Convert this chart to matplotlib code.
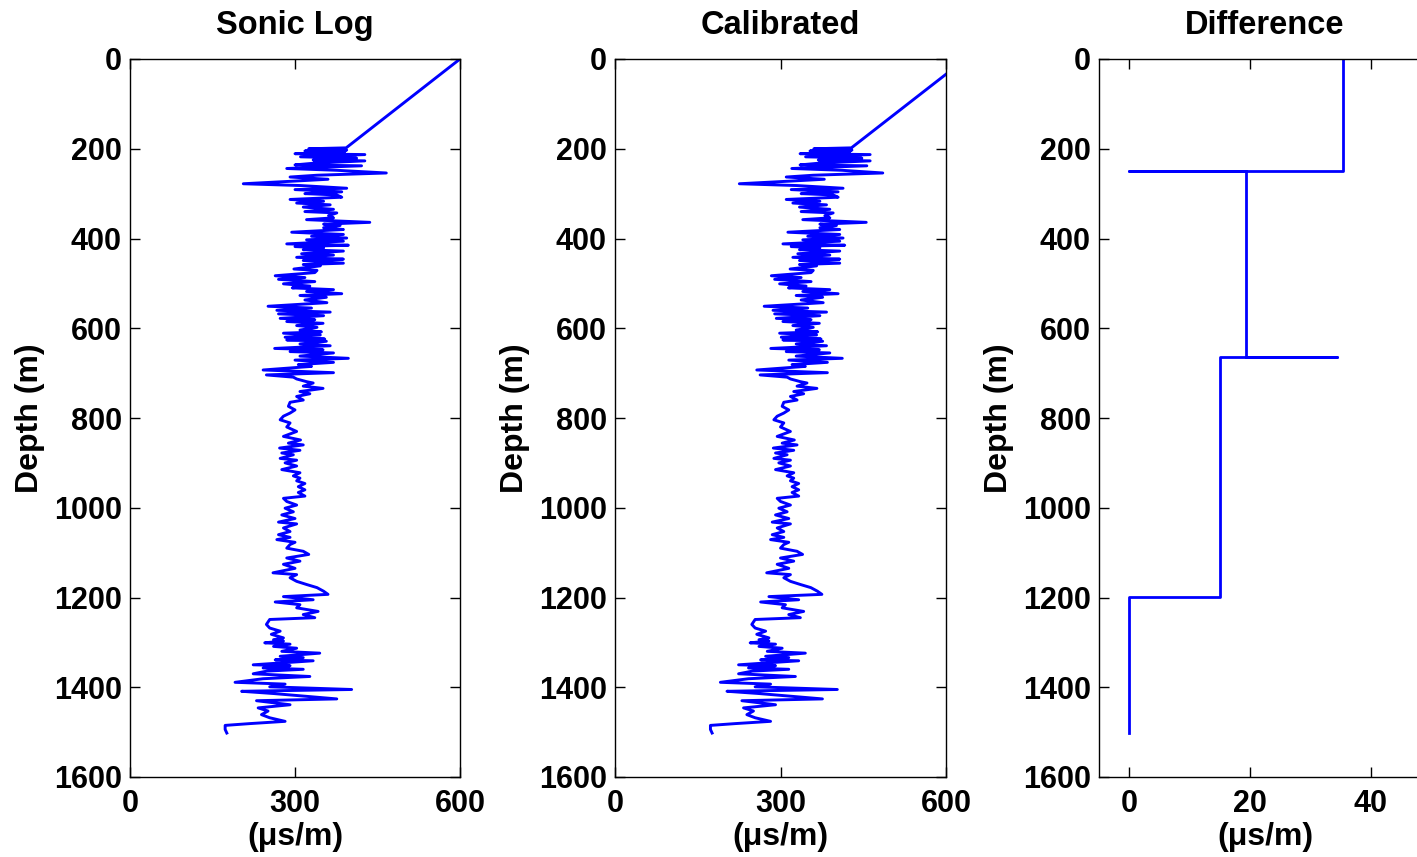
import numpy as np
import matplotlib
matplotlib.use("Agg")
import matplotlib.pyplot as plt

# ---------------- data ----------------
sonic_depth = [
    0, 198, 200, 203, 205, 208, 211, 213, 218, 221, 225, 227, 232, 236, 238, 244, 248, 254,
    259, 263, 268, 272, 278, 282, 288, 291, 296, 300, 303, 308, 313, 317, 321, 325, 330,
    335, 340, 343, 349, 354, 358, 364, 368, 371, 376, 380, 386, 391, 395, 399,
    403, 406, 412, 415, 418, 421, 425, 428, 434, 437, 442, 446, 449, 455, 458, 461, 468,
    471, 476, 483, 487, 491, 496, 501, 506, 510, 514, 518, 523, 527, 531, 537, 543, 551,
    555, 560, 564, 568, 572, 578, 581, 585, 589, 594, 598, 604, 608, 611, 615, 620, 624,
    626, 629, 635, 639, 645, 648, 652, 655, 662, 667, 671, 676, 681, 685, 693, 699, 704,
    709, 713, 719, 722, 729, 734, 741, 746, 752, 760, 765, 774, 782, 789, 796, 804, 811,
    820, 830, 841,
    849, 856, 860, 867, 872, 878, 882, 890, 894, 900, 907, 915, 922, 929, 934, 940, 946,
    953, 960, 966, 974, 979, 986, 994, 1001, 1009, 1016, 1024, 1032, 1036, 1045, 1053,
    1060, 1066,
    1071, 1077, 1082, 1090, 1097, 1104, 1112, 1119, 1126, 1135, 1145, 1149, 1156, 1164,
    1171, 1178, 1186, 1193, 1198, 1205, 1210, 1216, 1223, 1231, 1238, 1245, 1249, 1260,
    1268, 1275, 1282, 1290,
    1294, 1297, 1301, 1304, 1309, 1313, 1320, 1324, 1331, 1334, 1339, 1341, 1350, 1352,
    1357, 1360, 1364, 1370, 1376, 1381, 1389, 1393, 1399, 1405, 1409, 1414, 1426, 1430,
    1439, 1446, 1453, 1461, 1468, 1476, 1481, 1485, 1494, 1502,
]
sonic_value = [
    600, 393, 325, 394, 318, 390, 300, 427, 310, 412, 333, 427, 336, 300, 421, 285, 376, 466,
    340, 291, 360, 300, 206, 310, 394, 300, 385, 318, 376, 385, 291, 352, 303, 364, 315,
    370, 318, 376, 361, 370, 321, 436, 352, 382, 352, 388, 294, 388, 330, 394,
    321, 388, 285, 397, 300, 352, 315, 388, 312, 370, 303, 388, 315, 388, 315, 346, 298,
    340, 336, 264, 318, 270, 336, 279, 327, 295, 370, 321, 385, 309, 357, 318, 358, 251,
    330, 267, 364, 270, 352, 273, 336, 285, 351, 303, 340, 309, 348, 279, 346, 282, 354,
    285, 357, 309, 364, 263, 351, 291, 370, 309, 397, 300, 370, 306, 330, 242, 370, 248,
    297, 303, 321, 333, 315, 351, 309, 327, 303, 315, 291, 288, 300, 291, 279, 273, 291,
    285, 303, 279,
    310, 288, 315, 272, 309, 276, 297, 273, 303, 282, 303, 276, 309, 297, 309, 303, 318,
    306, 318, 306, 318, 279, 285, 303, 282, 297, 276, 300, 270, 303, 279, 291,
    270, 291,
    267, 300, 291, 285, 315, 325, 285, 309, 279, 300, 260, 303, 291, 303,
    321, 340, 352, 360, 279, 333, 264, 309, 303, 342, 315, 336, 254, 248,
    254, 273, 257, 279,
    261, 279, 245, 291, 261, 303, 276, 345, 273, 315, 264, 333, 224, 291,
    242, 315, 249, 224, 327, 242, 191, 282, 254, 403, 203, 261, 376, 230,
    291, 233, 251, 239, 254, 282, 218, 173, 173, 176,
]

# calibration shift per depth interval
calib_bounds = [250, 665, 1198]
calib_shift = [35.5, 19.4, 15.0, 0.0]

# difference curve as drawn
diff_depth = [0, 250, 250, 250, 665, 665, 665, 1198, 1198, 1502]
diff_value = [35.5, 35.5, 0.0, 19.4, 19.4, 34.4, 15.0, 15.0, 0.0, 0.0]

titles = ["Sonic Log", "Calibrated", "Difference"]
ylabel = "Depth (m)"
xlabel = "(\u03bcs/m)"
depth_ticks = [0, 200, 400, 600, 800, 1000, 1200, 1400, 1600]
log_ticks = [0, 300, 600]
diff_ticks = [0, 20, 40]

# ---------------- derived ----------------
sd = np.array(sonic_depth, dtype=float)
sv = np.array(sonic_value, dtype=float)
idx = np.searchsorted(np.array(calib_bounds), sd, side="right")
calibrated = sv + np.array(calib_shift)[idx]

# ---------------- plotting ----------------
plt.rcParams["font.family"] = ["Liberation Sans", "DejaVu Sans"]
plt.rcParams["font.weight"] = "bold"

W, H = 1417, 857
fig = plt.figure(figsize=(W / 100, H / 100), dpi=100)

def px_axes(left, right, top, bottom):
    return fig.add_axes([left / W, 1 - bottom / H, (right - left) / W, (bottom - top) / H])

ax1 = px_axes(130, 460, 59, 777)
ax2 = px_axes(615, 946, 59, 777)
ax3 = px_axes(1099, 1431, 59, 777)

blue = (0, 0, 1)
ax1.plot(sv, sd, color=blue, lw=2.1)
ax2.plot(calibrated, sd, color=blue, lw=2.1)
ax3.plot(diff_value, diff_depth, color=blue, lw=2.0)

for ax, title in zip([ax1, ax2, ax3], titles):
    ax.set_ylim(1600, 0)
    ax.set_yticks(depth_ticks)
    ax.set_yticklabels([str(t) for t in depth_ticks])
    ax.set_title(title, fontsize=23.5, fontweight="bold", pad=18)
    ax.set_ylabel(ylabel, fontsize=23, fontweight="bold", labelpad=6)
    ax.set_xlabel(xlabel, fontsize=23, fontweight="bold", labelpad=2)
    ax.tick_params(direction="in", length=7, width=1, top=True, right=True,
                   labelsize=22, pad=6)
    ax.tick_params(axis="x", pad=9)
    for s in ax.spines.values():
        s.set_linewidth(1.0)

for ax in (ax1, ax2):
    ax.set_xlim(0, 600)
    ax.set_xticks(log_ticks)
    ax.set_xticklabels([str(t) for t in log_ticks])

ax3.set_xlim(-5, 50)
ax3.set_xticks(diff_ticks)
ax3.set_xticklabels([str(t) for t in diff_ticks])

for ax in (ax1, ax2, ax3):
    for lab in ax.get_xticklabels() + ax.get_yticklabels():
        lab.set_fontweight("bold")

fig.savefig("out.png", dpi=100)
